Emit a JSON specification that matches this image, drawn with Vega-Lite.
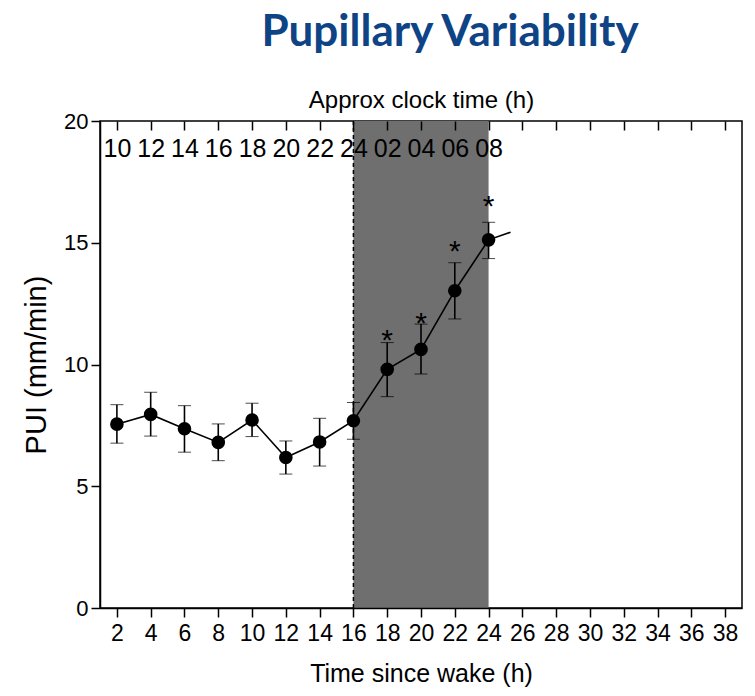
{
  "$schema": "https://vega.github.io/schema/vega-lite/v6.json",
  "autosize": "none",
  "width": 642,
  "height": 487,
  "padding": {"left": 100, "top": 121, "right": 13, "bottom": 88},
  "background": "white",
  "config": {
    "view": {"stroke": "black", "strokeWidth": 1.5},
    "font": "Liberation Sans"
  },
  "title": {
    "text": "Pupillary Variability",
    "font": "Lato",
    "fontSize": 44,
    "fontWeight": "bold",
    "color": "#0e4485",
    "anchor": "middle",
    "frame": "group",
    "dx": 29,
    "offset": 33
  },
  "datasets": {
    "pui": [
      {"t": 2, "v": 7.55, "lo": 6.77, "hi": 8.35},
      {"t": 4, "v": 7.95, "lo": 7.06, "hi": 8.86},
      {"t": 6, "v": 7.36, "lo": 6.40, "hi": 8.31},
      {"t": 8, "v": 6.80, "lo": 6.05, "hi": 7.56},
      {"t": 10, "v": 7.72, "lo": 7.04, "hi": 8.41},
      {"t": 12, "v": 6.18, "lo": 5.50, "hi": 6.86},
      {"t": 14, "v": 6.82, "lo": 5.83, "hi": 7.79},
      {"t": 16, "v": 7.69, "lo": 6.93, "hi": 8.44},
      {"t": 18, "v": 9.80, "lo": 8.68, "hi": 10.90, "star": 11.35, "sig": "*"},
      {"t": 20, "v": 10.62, "lo": 9.61, "hi": 11.66, "star": 12.03, "sig": "*"},
      {"t": 22, "v": 13.03, "lo": 11.87, "hi": 14.18, "star": 15.0, "sig": "*"},
      {"t": 24, "v": 15.12, "lo": 14.35, "hi": 15.84, "star": 16.83, "sig": "*"},
      {"t": 25.3, "v": 15.43}
    ],
    "night": [{"start": 16, "end": 24}]
  },
  "resolve": {"axis": {"x": "independent", "y": "independent"}},
  "layer": [
    {
      "data": {"name": "night"},
      "mark": {"type": "rect", "color": "#6f6f6f"},
      "encoding": {
        "x": {
          "field": "start", "type": "quantitative",
          "scale": {"domain": [1, 39], "nice": false, "zero": false},
          "axis": {
            "orient": "bottom", "title": "Time since wake (h)",
            "values": [2,4,6,8,10,12,14,16,18,20,22,24,26,28,30,32,34,36,38],
            "grid": false, "domainColor": "black", "domainWidth": 1.5,
            "tickColor": "black", "tickWidth": 1.5, "tickSize": 9,
            "labelFont": "Liberation Sans", "labelFontSize": 23, "labelColor": "black",
            "labelPadding": 5, "labelFlush": false, "labelOverlap": false,
            "titleFont": "Liberation Sans", "titleFontSize": 25, "titleFontWeight": "normal",
            "titleColor": "black", "titlePadding": 16, "zindex": 1
          }
        },
        "x2": {"field": "end"}
      }
    },
    {
      "data": {"name": "night"},
      "mark": {"type": "rule", "color": "black", "strokeWidth": 1.5, "strokeDash": [4, 3]},
      "encoding": {
        "x": {"field": "start", "type": "quantitative", "scale": {"domain": [1, 39], "nice": false, "zero": false}, "axis": null}
      }
    },
    {
      "data": {"name": "pui"},
      "mark": {"type": "line", "color": "black", "strokeWidth": 1.6},
      "encoding": {
        "x": {
          "field": "t", "type": "quantitative",
          "scale": {"domain": [1, 39], "nice": false, "zero": false},
          "axis": {
            "orient": "top", "title": "Approx clock time (h)", "offset": -9,
            "values": [2,4,6,8,10,12,14,16,18,20,22,24,26,28,30,32,34,36,38],
            "labelExpr": "datum.value <= 16 ? '' + (datum.value + 8) : (datum.value <= 24 ? '0' + (datum.value - 16) : '')",
            "grid": false, "domain": false,
            "ticks": true, "tickColor": "black", "tickWidth": 1.5, "tickSize": 9,
            "labelFont": "Liberation Sans", "labelFontSize": 25, "labelColor": "black",
            "labelPadding": -40, "labelFlush": false, "labelOverlap": false,
            "titleFont": "Liberation Sans", "titleFontSize": 24, "titleFontWeight": "normal",
            "titleColor": "black", "titlePadding": 8, "zindex": 1
          }
        },
        "y": {
          "field": "v", "type": "quantitative",
          "scale": {"domain": [0, 20], "nice": false},
          "axis": {
            "title": "PUI (mm/min)", "values": [0, 5, 10, 15, 20],
            "grid": false, "domainColor": "black", "domainWidth": 1.5,
            "tickColor": "black", "tickWidth": 1.5, "tickSize": 9,
            "labelFont": "Liberation Sans", "labelFontSize": 22, "labelColor": "black",
            "labelPadding": 3,
            "titleFont": "Liberation Sans", "titleFontSize": 29, "titleFontWeight": "normal",
            "titleColor": "black", "titlePadding": 12, "zindex": 1
          }
        }
      }
    },
    {
      "data": {"name": "pui"},
      "transform": [{"filter": "isValid(datum.lo)"}],
      "mark": {
        "type": "errorbar",
        "ticks": {"size": 13, "color": "black", "strokeWidth": 1.6},
        "rule": {"color": "black", "strokeWidth": 1.6}
      },
      "encoding": {
        "x": {"field": "t", "type": "quantitative", "scale": {"domain": [1, 39], "nice": false, "zero": false}, "axis": null},
        "y": {"field": "lo", "type": "quantitative", "scale": {"domain": [0, 20], "nice": false}, "axis": null},
        "y2": {"field": "hi"}
      }
    },
    {
      "data": {"name": "pui"},
      "transform": [{"filter": "isValid(datum.lo)"}],
      "mark": {"type": "circle", "color": "black", "opacity": 1, "size": 185},
      "encoding": {
        "x": {"field": "t", "type": "quantitative", "scale": {"domain": [1, 39], "nice": false, "zero": false}, "axis": null},
        "y": {"field": "v", "type": "quantitative", "scale": {"domain": [0, 20], "nice": false}, "axis": null}
      }
    },
    {
      "data": {"name": "pui"},
      "transform": [{"filter": "isValid(datum.star)"}],
      "mark": {"type": "text", "color": "black", "font": "Liberation Sans", "fontSize": 30, "baseline": "middle", "dy": 9},
      "encoding": {
        "x": {"field": "t", "type": "quantitative", "scale": {"domain": [1, 39], "nice": false, "zero": false}, "axis": null},
        "y": {"field": "star", "type": "quantitative", "scale": {"domain": [0, 20], "nice": false}, "axis": null},
        "text": {"field": "sig"}
      }
    }
  ]
}
